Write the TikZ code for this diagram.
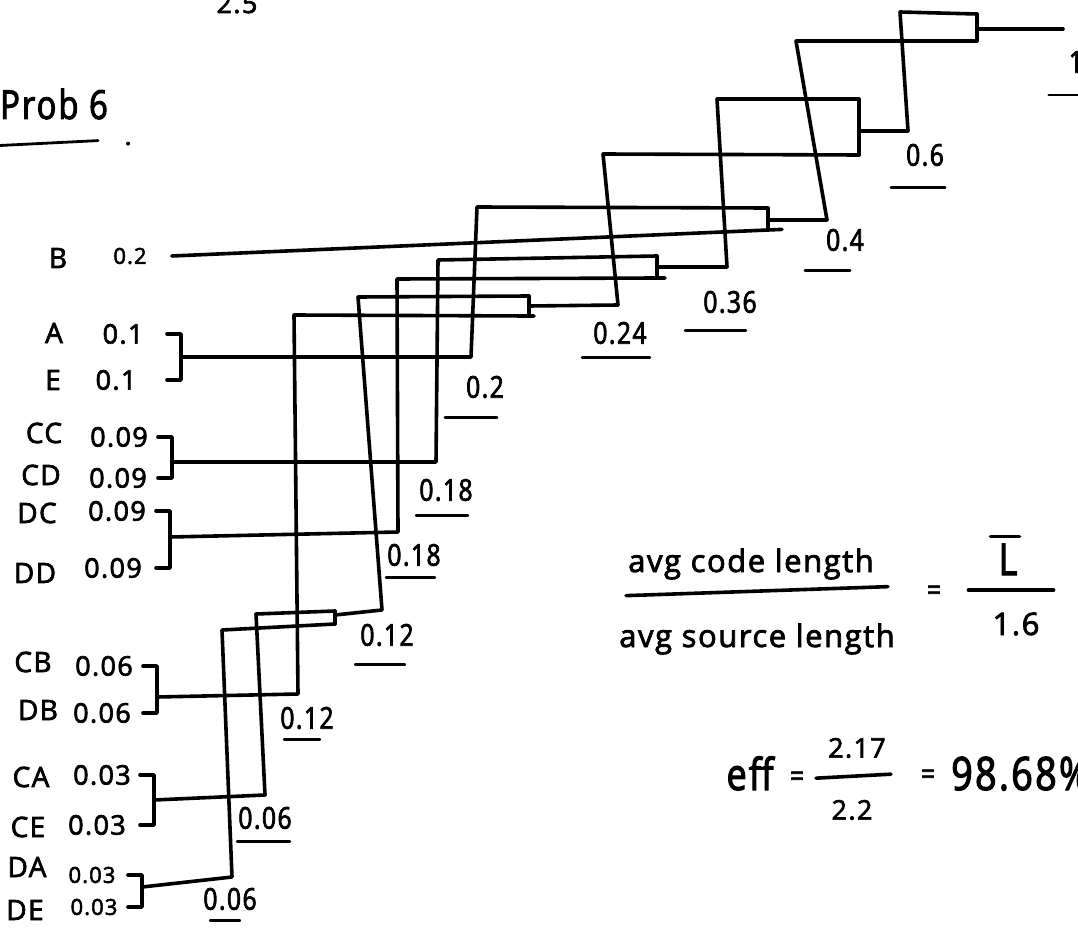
\documentclass[tikz,border=0pt]{standalone}
\usepackage{fontspec}
\setmainfont{Open Sans}[LetterSpace=5, FakeBold=2.5]
\newfontfamily\narrowhand{Open Sans}[LetterSpace=5, FakeBold=2.5, FakeStretch=0.82]
\usetikzlibrary{calc}

\begin{document}
\begin{tikzpicture}[
  x=1pt, y=-1pt,
  wire/.style  = {line width=3.6pt, line cap=round, line join=round},
  uline/.style = {line width=2.8pt, line cap=round},
  overrun/.style = {shorten >=-#1},
  overrun/.default = 8pt,
  leaf/.style  = {inner sep=0pt, font=\fontsize{28}{30}\selectfont},
  prob/.style  = {inner sep=0pt, font=\fontsize{27}{29}\selectfont},
  smallprob/.style = {inner sep=0pt, font=\fontsize{22}{24}\selectfont},
  wt/.style    = {inner sep=0pt, font=\narrowhand\fontsize{30}{32}\selectfont},
  note/.style  = {inner sep=0pt, font=\fontsize{31}{33}\selectfont},
  big/.style   = {inner sep=0pt, font=\narrowhand\fontsize{44}{46}\selectfont}
]
\useasboundingbox (0,0) rectangle (1078,941);

%% ---------- Heading ----------
\node[prob, anchor=base] (prev) at (237,13) {2.5};
\node[inner sep=0pt, anchor=west, font=\narrowhand\fontsize{40}{42}\selectfont] (title) at (0,104) {Prob 6};
\draw[uline] ([xshift=-2pt,yshift=-26pt]title.south west) -- ([xshift=-10pt,yshift=-21pt]title.south east);
\fill ($(title.south east)+(20,24)$) circle (2);

%% ---------- Source symbols ----------
\node[leaf] (nB)  at (58,258)  {B};  \node[smallprob] (pB)  at (130,256) {0.2};
\node[leaf] (nA)  at (54,333)  {A};  \node[prob] (pA)  at (123,334) {0.1};
\node[leaf] (nE)  at (53,380)  {E};  \node[prob] (pE)  at (116,380) {0.1};
\node[leaf] (nCC) at (44,433)  {CC}; \node[prob] (pCC) at (119,437) {0.09};
\node[leaf] (nCD) at (41,475)  {CD}; \node[prob] (pCD) at (118,478) {0.09};
\node[leaf] (nDC) at (37,513)  {DC}; \node[prob] (pDC) at (117,511) {0.09};
\node[leaf] (nDD) at (35,573)  {DD}; \node[prob] (pDD) at (113,568) {0.09};
\node[leaf] (nCB) at (33,662)  {CB}; \node[prob] (pCB) at (104,666) {0.06};
\node[leaf] (nDB) at (38,710)  {DB}; \node[prob] (pDB) at (102,713) {0.06};
\node[leaf] (nCA) at (31,777)  {CA}; \node[prob] (pCA) at (102,775) {0.03};
\node[leaf] (nCE) at (28,827)  {CE}; \node[prob] (pCE) at (97,825)  {0.03};
\node[leaf] (nDA) at (27,867)  {DA}; \node[smallprob] (pDA) at (92,875) {0.03};
\node[leaf] (nDE) at (25,910)  {DE}; \node[smallprob] (pDE) at (94,907) {0.03};

%% ---------- Merge points ----------
\coordinate (mAE)  at (181,357);
\coordinate (mCC)  at (172,462);
\coordinate (mDC)  at (170,537);
\coordinate (mCB)  at (157,697);
\coordinate (mCA)  at (154,800);
\coordinate (mDA)  at (142,887);

\coordinate (n12a) at (335,611);  \coordinate (n12b) at (335,624);  \coordinate (n12) at (335,615);
\coordinate (n24a) at (529,296);  \coordinate (n24b) at (529,316);  \coordinate (n24) at (529,306);
\coordinate (n36a) at (657,256);  \coordinate (n36b) at (657,278);  \coordinate (n36) at (657,267);
\coordinate (n40a) at (768,208);  \coordinate (n40b) at (768,230);  \coordinate (n40) at (768,220);
\coordinate (n60a) at (859,99);   \coordinate (n60b) at (859,155);  \coordinate (n60) at (859,131);
\coordinate (n1a)  at (977,14);   \coordinate (n1b)  at (977,41);   \coordinate (n1)  at (977,29);
\coordinate (root) at (1063,29);

%% ---------- Brackets ----------
\foreach \m/\u/\l in {mAE/pA/pE, mCC/pCC/pCD, mDC/pDC/pDD, mCB/pCB/pDB, mCA/pCA/pCE, mDA/pDA/pDE}
  \draw[wire] ($(\m |- \u)+(-14,0)$) -| (\m) |- ($(\m |- \l)+(-14,0)$);

\foreach \t/\b in {n12a/n12b, n24a/n24b, n36a/n36b, n40a/n40b, n60a/n60b, n1a/n1b}
  \draw[wire] (\t) -- (\b);

%% ---------- Wires up the tree ----------
\draw[wire, overrun=14pt] ([xshift=25pt]pB.east) -- (n40b);

\draw[wire] (mAE) -- ++(290,0) -- ++(6,-150) -- (n40a);
\draw[wire] (mCC) -- ++(264,0) -- ++(2,-202) -- (n36a);
\draw[wire, overrun] (mDC) -- ++(228,-5) -- ++(-1,-253) -- (n36b);
\draw[wire, overrun=5pt] (mCB) -- ++(141,-3) -- ++(-4,-379) -- (n24b);
\draw[wire] (mCA) -- ++(111,-5) -- ++(-9,-181) -- (n12a);
\draw[wire] (mDA) -- ++(90,-10) -- ++(-10,-247) -- (n12b);

\draw[wire] (n12) -- ++(47,-5) -- ++(-24,-313) -- (n24a);
\draw[wire] (n24) -- ++(89,-1) -- ++(-15,-151) -- (n60b);
\draw[wire] (n36) -- ++(70,0) -- ++(-10,-168) -- (n60a);
\draw[wire] (n40) -- ++(59,0) -- ++(-31,-179) -- (n1b);
\draw[wire] (n60) -- ++(49,0) -- ++(-8,-119) -- (n1a);
\draw[wire] (n1) -- (root);

%% ---------- Node weights ----------
\node[wt] (w20)  at (485,387) {0.2};
\node[wt] (w18a) at (446,490) {0.18};
\node[wt] (w18b) at (414,555) {0.18};
\node[wt] (w12a) at (307,718) {0.12};
\node[wt] (w06a) at (265,818) {0.06};
\node[wt] (w06b) at (230,899) {0.06};
\node[wt] (w12b) at (387,635) {0.12};
\node[wt] (w24)  at (620,333) {0.24};
\node[wt] (w36)  at (730,302) {0.36};
\node[wt] (w40)  at (845,240) {0.4};
\node[wt] (w60)  at (925,155) {0.6};
\node[wt] (w1)   at (1076,62) {1};

\foreach \w/\d/\l/\r in {w20/19/-21/-7, w18a/14/-3/-5, w18b/11/-1/-6, w12a/10/4/-14,
    w06a/12/-1/-2, w06b/10/7/-17, w12b/18/-5/-9, w24/13/-11/3, w36/17/-18/-11,
    w40/19/-21/-14, w60/21/-15/1, w1/22/-20/4}
  \draw[uline] ([xshift=\l pt,yshift=-\d pt]\w.south west) -- ([xshift=\r pt,yshift=-\d pt]\w.south east);

%% ---------- Efficiency ----------
\node[note, anchor=base] (avgc) at (751,572) {avg code length};
\node[note, anchor=base] (avgs) at (757,647) {avg source length};
\draw[wire] ($(avgc.south west)+(-2,16)$) -- ($(avgc.south east)+(14,7)$);
\node[wt] (eq1) at (934,593) {=};
\node[big, anchor=base] (lbar) at (1008,575) {L};
\draw[wire] ([xshift=-8pt,yshift=7pt]lbar.north west) -- ([xshift=2pt,yshift=7pt]lbar.north east);
\node[note, anchor=base] (src) at (1016,635) {1.6};
\draw[wire] ($(lbar.south west)+(-30,15)$) -- ($(lbar.south east)+(36,15)$);
\node[wt] (eq2) at (1084,592) {=};

\node[big, anchor=base] (eff) at (750,790) {eff};
\node[wt] (eq3) at (797,779) {=};
\node[prob] (h17) at (857,748) {2.17};
\node[prob] (h22) at (852,810) {2.2};
\draw[wire] ($(h17.south west)+(-12,20)$) -- ($(h17.south east)+(5,16)$);
\node[wt] (eq4) at (928,777) {=};
\node[inner sep=0pt, anchor=base west, font=\narrowhand\fontsize{46}{48}\selectfont] (res) at (951,790) {98.68\%};

\end{tikzpicture}
\end{document}
